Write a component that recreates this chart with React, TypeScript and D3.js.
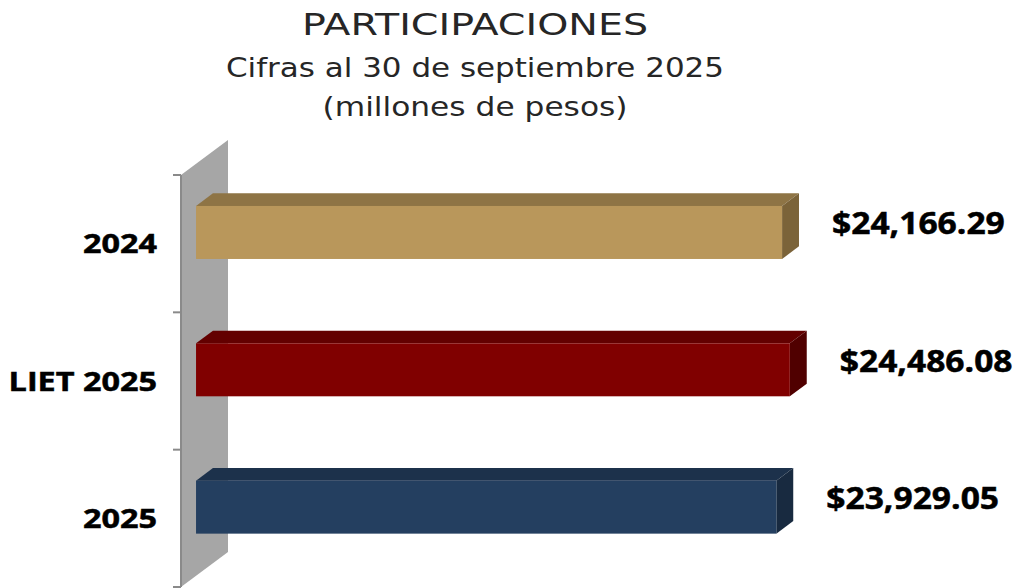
import React from "react";
import * as d3 from "d3";

const categories = ["2024", "LIET 2025", "2025"];
const values = [24166.29, 24486.08, 23929.05];
const frontColors = ["#b9975b", "#800000", "#243f60"];
const topColors = ["#8e7445", "#630000", "#1c314b"];
const sideColors = ["#7b6339", "#500000", "#182a40"];
const titleLines = ["PARTICIPACIONES", "Cifras al 30 de septiembre 2025", "(millones de pesos)"];

const W = 1025;
const H = 588;

export default function App() {
  // 3D geometry
  const wallDx = 47;
  const wallDy = -35;
  const zFront = 0.32;
  const zBack = 0.68;
  const plotTop = 175;
  const plotBottom = 587;
  const x0 = 181;

  const y = d3.scaleBand<string>().domain(categories).range([plotTop, plotBottom]).padding(0);
  const x = d3.scaleLinear().domain([0, 25000]).range([0, 606.25]);
  const fmt = d3.format("$,.2f");

  const barH = y.bandwidth() * 0.386;
  const fmtLen = [346, 498, 305];
  const titleY = [35, 77, 116];
  const titleSize = [30, 27, 27];

  const wall = [
    [x0, plotTop],
    [x0 + wallDx, plotTop + wallDy],
    [x0 + wallDx, plotBottom + wallDy],
    [x0, plotBottom],
  ];

  const ticks = [...categories.map((c) => y(c) as number), plotBottom];

  return (
    <svg width={W} height={H} style={{ position: "absolute", left: 0, top: 0, background: "#fff" }}>
      {titleLines.map((t, i) => (
        <text
          key={t}
          x={475}
          y={titleY[i]}
          textAnchor="middle"
          fontFamily="DejaVu Sans"
          fontSize={titleSize[i]}
          fill="#262626"
          textLength={fmtLen[i]}
          lengthAdjust="spacingAndGlyphs"
        >
          {t}
        </text>
      ))}

      {/* wall */}
      <polygon points={wall.map((p) => p.join(",")).join(" ")} fill="#a6a6a6" />
      <line x1={x0} x2={x0} y1={plotTop} y2={plotBottom} stroke="#8a8a8a" strokeWidth={2} />
      {ticks.map((t, i) => (
        <line key={i} x1={x0 - 8} x2={x0} y1={t} y2={t} stroke="#8a8a8a" strokeWidth={2} />
      ))}

      {categories.map((c, i) => {
        const cy = (y(c) as number) + y.bandwidth() / 2;
        const fx = x0 + wallDx * zFront;
        const fy = cy + wallDy * zFront;
        const ddx = wallDx * (zBack - zFront);
        const ddy = wallDy * (zBack - zFront);
        const len = x(values[i]);
        const top = fy - barH / 2;
        const bot = fy + barH / 2;
        const right = fx + len;
        const topFace = [
          [fx, top],
          [fx + ddx, top + ddy],
          [right + ddx, top + ddy],
          [right, top],
        ];
        const sideFace = [
          [right, top],
          [right + ddx, top + ddy],
          [right + ddx, bot + ddy],
          [right, bot],
        ];
        return (
          <g key={c}>
            <polygon points={topFace.map((p) => p.join(",")).join(" ")} fill={topColors[i]} />
            <polygon points={sideFace.map((p) => p.join(",")).join(" ")} fill={sideColors[i]} />
            <rect x={fx} y={top} width={len} height={barH} fill={frontColors[i]} />
            <g transform={`translate(157,${cy}) scale(1.2,1)`}>
              <text
                dy="0.36em"
                textAnchor="end"
                fontFamily="Open Sans"
                fontWeight="bold"
                fontSize={27}
                fill="#000"
                stroke="#000"
                strokeWidth={0.5}
              >
                {c}
              </text>
            </g>
            <g transform={`translate(${right + ddx + 33},${fy - 9}) scale(1.12,1)`}>
              <text
                dy="0.36em"
                textAnchor="start"
                fontFamily="Open Sans"
                fontWeight="bold"
                fontSize={30}
                fill="#000"
                stroke="#000"
                strokeWidth={0.5}
              >
                {fmt(values[i])}
              </text>
            </g>
          </g>
        );
      })}
    </svg>
  );
}
